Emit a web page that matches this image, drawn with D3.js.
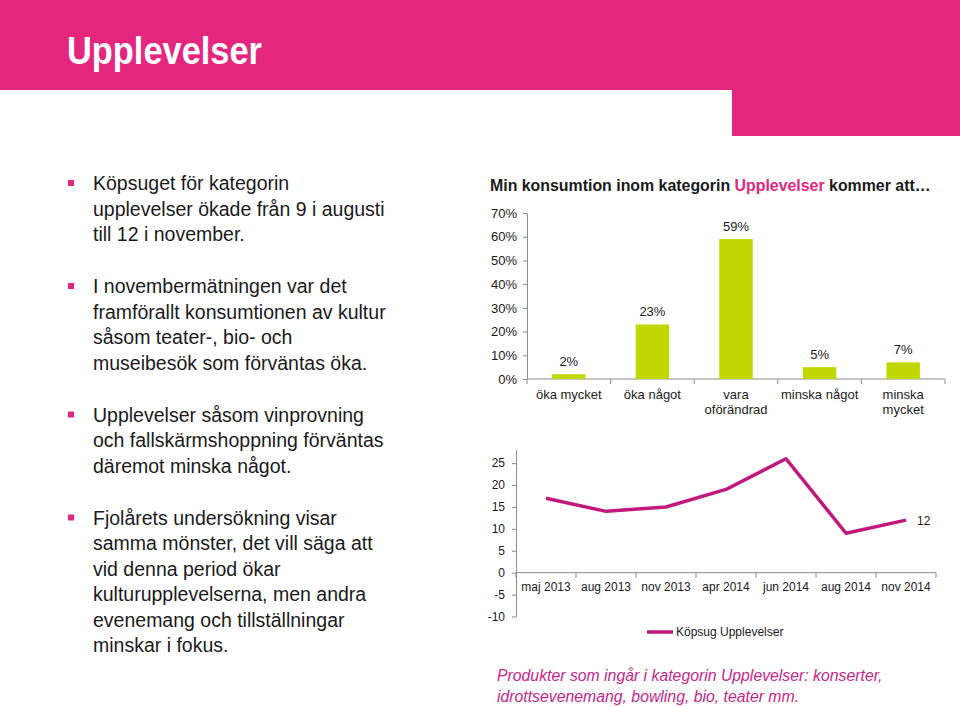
<!DOCTYPE html>
<html><head><meta charset="utf-8">
<script src="https://cdn.jsdelivr.net/npm/d3@7"></script>
<style>
html,body{margin:0;padding:0;background:#fff;}
svg{display:block;font-family:"Liberation Sans",Arial,sans-serif;}
</style></head>
<body>
<svg id="c" width="960" height="707"></svg>
<script>
// ---- data ----
const pageTitle = "Upplevelser";
const bullets = [
  ["Köpsuget för kategorin", "upplevelser ökade från 9 i augusti", "till 12 i november."],
  ["I novembermätningen var det", "framförallt konsumtionen av kultur", "såsom teater-, bio- och", "museibesök som förväntas öka."],
  ["Upplevelser såsom vinprovning", "och fallskärmshoppning förväntas", "däremot minska något."],
  ["Fjolårets undersökning visar", "samma mönster, det vill säga att", "vid denna period ökar", "kulturupplevelserna, men andra", "evenemang och tillställningar", "minskar i fokus."]
];
const barCategories = [["öka mycket"], ["öka något"], ["vara", "oförändrad"], ["minska något"], ["minska", "mycket"]];
const barValues = [2, 23, 59, 5, 7];
const barTicks = [0, 10, 20, 30, 40, 50, 60, 70];
const lineCategories = ["maj 2013", "aug 2013", "nov 2013", "apr 2014", "jun 2014", "aug 2014", "nov 2014"];
const lineValues = [17, 14, 15, 19, 26, 9, 12];
const lineTicks = [-10, -5, 0, 5, 10, 15, 20, 25];
const lineSeriesName = "Köpsug Upplevelser";
const footnote = ["Produkter som ingår i kategorin Upplevelser: konserter,", "idrottsevenemang, bowling, bio, teater mm."];

// ---- styles ----
const PINK = "#e5267f", MAGENTA = "#c2187e", GREEN = "#c0d700", TXT = "#1a1a1a", AX = "#8c8c8c";
const svg = d3.select("#c");

// header
svg.append("rect").attr("x", 0).attr("y", 0).attr("width", 960).attr("height", 90).attr("fill", PINK);
svg.append("rect").attr("x", 732).attr("y", 90).attr("width", 228).attr("height", 46).attr("fill", PINK);
svg.append("text").attr("x", 67).attr("y", 64).attr("fill", "#fff")
  .attr("font-size", 38).attr("font-weight", "bold")
  .attr("textLength", 195).attr("lengthAdjust", "spacingAndGlyphs").text(pageTitle);

// bullets
const lh = 25.5, gap = 52;
let y = 190;
bullets.forEach(p => {
  svg.append("rect").attr("x", 68).attr("y", y - 10).attr("width", 6).attr("height", 6).attr("fill", PINK);
  p.forEach((ln, i) => {
    svg.append("text").attr("x", 93).attr("y", y + i * lh).attr("fill", TXT)
      .attr("font-size", 19.5).text(ln);
  });
  y += (p.length - 1) * lh + gap;
});

// ---- bar chart ----
const bt = svg.append("text").attr("x", 490).attr("y", 191).attr("font-size", 15.9).attr("font-weight", "bold").attr("fill", TXT);
bt.append("tspan").text("Min konsumtion inom kategorin ");
bt.append("tspan").attr("fill", PINK).text("Upplevelser");
bt.append("tspan").text(" kommer att…");

const bx = d3.scaleBand().domain(d3.range(barValues.length)).range([527, 945]).paddingInner(0.6).paddingOuter(0.3);
const by = d3.scaleLinear().domain([0, 70]).range([379, 213]);
const gy = svg.append("g").attr("transform", "translate(527,0)")
  .call(d3.axisLeft(by).tickValues(barTicks).tickFormat(d => d + "%").tickSize(4).tickSizeOuter(0).tickPadding(6));
gy.select(".domain").attr("stroke", AX);
gy.selectAll(".tick line").attr("stroke", AX);
gy.selectAll("text").attr("font-size", 13).attr("fill", TXT).attr("font-family", "Liberation Sans, Arial, sans-serif");

// x axis line + boundary ticks
svg.append("line").attr("x1", 527).attr("x2", 945).attr("y1", 379).attr("y2", 379).attr("stroke", AX);
d3.range(barValues.length + 1).forEach(i => {
  const xx = 527 + i * bx.step();
  svg.append("line").attr("x1", xx).attr("x2", xx).attr("y1", 379).attr("y2", 384).attr("stroke", AX);
});
const bcx = i => bx(i) + bx.bandwidth() / 2;
svg.append("g").selectAll("rect").data(barValues).join("rect")
  .attr("x", (d, i) => bx(i)).attr("width", bx.bandwidth())
  .attr("y", d => by(d)).attr("height", d => by(0) - by(d)).attr("fill", GREEN);
svg.append("g").selectAll("text").data(barValues).join("text")
  .attr("x", (d, i) => bcx(i)).attr("y", d => by(d) - 8).attr("text-anchor", "middle")
  .attr("font-size", 13).attr("fill", TXT).text(d => d + "%");
barCategories.forEach((lines, i) => {
  lines.forEach((ln, j) => {
    svg.append("text").attr("x", bcx(i)).attr("y", 399 + j * 15).attr("text-anchor", "middle")
      .attr("font-size", 13).attr("fill", TXT).text(ln);
  });
});

// ---- line chart ----
const lx = d3.scalePoint().domain(lineCategories).range([516, 936]).padding(0.5);
const ly = d3.scaleLinear().domain([-10, 28]).range([616.5, 450]);
const gl = svg.append("g").attr("transform", "translate(516,0)")
  .call(d3.axisLeft(ly).tickValues(lineTicks).tickFormat(d => String(d)).tickSize(4).tickSizeOuter(0).tickPadding(7));
gl.select(".domain").attr("stroke", AX);
gl.selectAll(".tick line").attr("stroke", AX);
gl.selectAll("text").attr("font-size", 12).attr("fill", TXT).attr("font-family", "Liberation Sans, Arial, sans-serif");
// category axis at 0
const y0 = ly(0);
svg.append("line").attr("x1", 516).attr("x2", 936).attr("y1", y0).attr("y2", y0).attr("stroke", AX);
const lstep = lx.step();
d3.range(lineCategories.length + 1).forEach(i => {
  const xx = 516 + i * lstep;
  svg.append("line").attr("x1", xx).attr("x2", xx).attr("y1", y0).attr("y2", y0 + 5).attr("stroke", AX);
});
svg.append("g").selectAll("text").data(lineCategories).join("text")
  .attr("x", d => lx(d)).attr("y", y0 + 18).attr("text-anchor", "middle")
  .attr("font-size", 12).attr("fill", TXT).text(d => d);

const line = d3.line().x((d, i) => lx(lineCategories[i])).y(d => ly(d));
svg.append("path").datum(lineValues).attr("d", line).attr("fill", "none")
  .attr("stroke", MAGENTA).attr("stroke-width", 3.5).attr("stroke-linejoin", "round");
const li = lineValues.length - 1;
svg.append("text").attr("x", lx(lineCategories[li]) + 11).attr("y", ly(lineValues[li]) + 4.5)
  .attr("font-size", 12).attr("fill", TXT).text(lineValues[li]);

// legend
svg.append("line").attr("x1", 647).attr("x2", 673).attr("y1", 632).attr("y2", 632)
  .attr("stroke", MAGENTA).attr("stroke-width", 3.5);
svg.append("text").attr("x", 676).attr("y", 636).attr("font-size", 12).attr("fill", TXT).text(lineSeriesName);

// footnote
footnote.forEach((ln, i) => {
  svg.append("text").attr("x", 497).attr("y", 681 + i * 21).attr("font-size", 15.8)
    .attr("font-style", "italic").attr("fill", "#c4268a").text(ln);
});
</script>
</body></html>
